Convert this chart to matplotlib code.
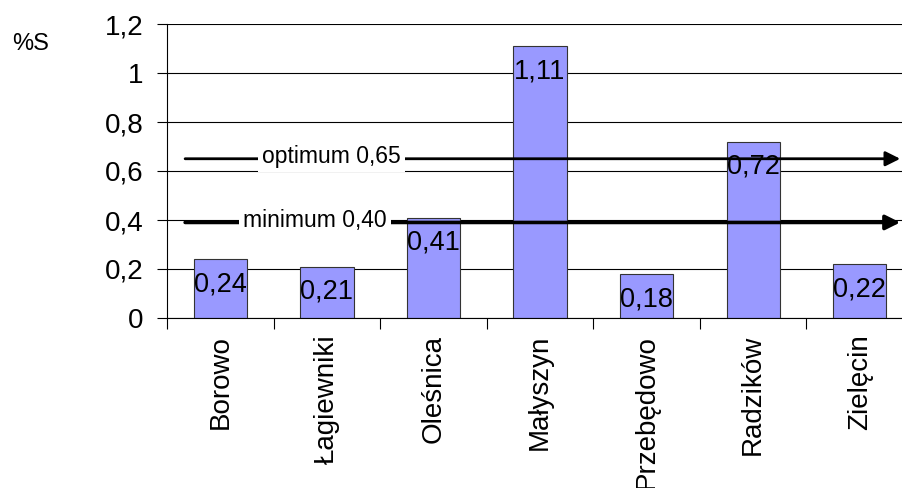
import numpy as np
import matplotlib.pyplot as plt

plt.rcParams['font.family'] = ['Liberation Sans', 'DejaVu Sans']

miejscowosci = ['Borowo', 'Łagiewniki', 'Oleśnica', 'Małyszyn', 'Przebędowo', 'Radzików', 'Zielęcin']
siarka = [0.24, 0.21, 0.41, 1.11, 0.18, 0.72, 0.22]
progi = [0.65, 0.39]
progi_opisy = ['optimum 0,65', 'minimum 0,40']
yticks = [0, 0.2, 0.4, 0.6, 0.8, 1.0, 1.2]
yticklabels = ['0', '0,2', '0,4', '0,6', '0,8', '1', '1,2']

fig = plt.figure(figsize=(9.02, 4.88), dpi=100)
# obszar wykresu wychodzi poza prawą krawędź, jak w oryginale
ax = fig.add_axes([167/902, 170/488, 746/902, 294/488])

x = np.arange(len(miejscowosci))
ax.bar(x, siarka, width=0.5, color='#9999ff', edgecolor='#333333', linewidth=0.8, zorder=2)

for xi, v in zip(x, siarka):
    ax.text(xi, v - 0.05, f'{v:.2f}'.replace('.', ','), ha='center', va='top',
            fontsize=19.5, zorder=3)

ax.set_xlim(-0.5, len(miejscowosci) - 0.5)
ax.set_ylim(0, 1.2)
ax.set_yticks(yticks)
ax.set_yticklabels(yticklabels, fontsize=20)
ax.yaxis.grid(True, color='black', linewidth=0.8, zorder=0)
ax.set_axisbelow(True)

ax.set_xticks(x)
ax.set_xticklabels(miejscowosci, rotation=90, fontsize=20)
ax.tick_params(axis='x', length=0, pad=12)
ax.set_xticks(np.arange(len(miejscowosci) + 1) - 0.5, minor=True)
ax.tick_params(axis='x', which='minor', length=8, width=0.8)
ax.tick_params(axis='y', length=7, width=0.8, pad=10)

for s in ['top', 'right']:
    ax.spines[s].set_visible(False)
ax.spines['left'].set_linewidth(0.8)
ax.spines['bottom'].set_linewidth(0.8)

# strzałki progów
tekst_x = [1.04, 0.89]
for p, opis, tx, lw in zip(progi, progi_opisy, tekst_x, [2.0, 2.6]):
    ax.annotate('', xy=(6.38, p), xytext=(-0.33, p),
                arrowprops=dict(arrowstyle='-|>', color='black', lw=lw,
                                mutation_scale=22, shrinkA=0, shrinkB=0),
                zorder=4, annotation_clip=False)
    ax.text(tx, p + 0.01, opis, ha='center', va='center', fontsize=16.5, zorder=5,
            bbox=dict(facecolor='white', edgecolor='none', pad=3))

fig.text(12/902, 1 - 50/488, '%S', fontsize=17)

fig.savefig('out.png', dpi=100)
